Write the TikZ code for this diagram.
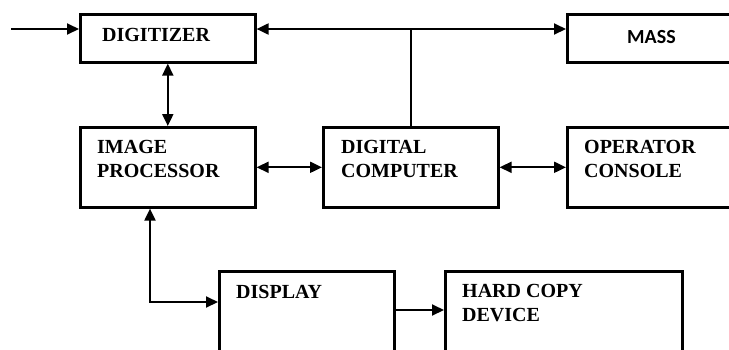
\documentclass[tikz,border=0pt]{standalone}
\usepackage{fontspec}
\setmainfont{Liberation Serif}
\newfontfamily\massfont{Carlito}
\usetikzlibrary{arrows.meta,positioning,calc}

\begin{document}
\begin{tikzpicture}[x=1pt, y=-1pt,
    box/.style={draw, line width=2.6pt, anchor=north west, inner sep=0pt},
    txt/.style={anchor=base west, inner sep=0pt, align=left, font=\fontsize{20}{24}\selectfont\bfseries},
    link/.style={line width=2pt},
    tip/.style={-{Triangle[length=12pt,width=11pt]}},
    dtip/.style={{Triangle[length=12pt,width=11pt]}-{Triangle[length=12pt,width=11pt]}}]
  \useasboundingbox (0,0) rectangle (729,349);
  \clip (0,0) rectangle (729,349);
  % blocks
  \node[box, minimum width=175pt, minimum height=48pt] (dig) at (79,13) {};
  \node[box, minimum width=179pt, minimum height=48pt] (mass) at (566,13) {};
  \node[box, minimum width=175pt, minimum height=80pt] (ip) at (79,126) {};
  \node[box, minimum width=175pt, minimum height=80pt] (dc) at (322,126) {};
  \node[box, minimum width=179pt, minimum height=80pt] (oc) at (566,126) {};
  \node[box, minimum width=175pt, minimum height=95pt] (disp) at (218,270) {};
  \node[box, minimum width=237pt, minimum height=95pt] (hcd) at (444,270) {};
  % texts (base of last line)
  \node[txt] (dig-t) at ($(dig.north west)+(23,28)$) {DIGITIZER};
  \node[txt, font=\fontsize{20}{24}\massfont\bfseries] (mass-t) at (627,43) {MASS};
  \node[txt] (ip-t) at ($(ip.north west)+(18,51)$) {IMAGE\\PROCESSOR};
  \node[txt] (dc-t) at ($(dc.north west)+(19,51)$) {DIGITAL\\COMPUTER};
  \node[txt] (oc-t) at ($(oc.north west)+(18,51)$) {OPERATOR\\CONSOLE};
  \node[txt] (disp-t) at ($(disp.north west)+(18,28)$) {DISPLAY};
  \node[txt] (hcd-t) at ($(hcd.north west)+(18,51)$) {HARD COPY\\DEVICE};
  % connectors
  \coordinate (in) at (11,29);
  \coordinate (bend) at (150,302);
  \coordinate (out) at (0,310);
  \draw[link, tip] (in) -- (in -| dig.west);
  \draw[link, dtip] (in -| dig.east) -- (in -| mass.west);
  \draw[link] (dc.north) -- (dc.north |- in);
  \draw[link, dtip] (dig.south) -- (ip.north);
  \draw[link, dtip] (ip.east) -- (dc.west);
  \draw[link, dtip] (dc.east) -- (oc.west);
  \draw[link, dtip] (bend |- ip.south) -- (bend) -- (bend -| disp.west);
  \draw[link, tip] (out -| disp.east) -- (out -| hcd.west);
\end{tikzpicture}
\end{document}
